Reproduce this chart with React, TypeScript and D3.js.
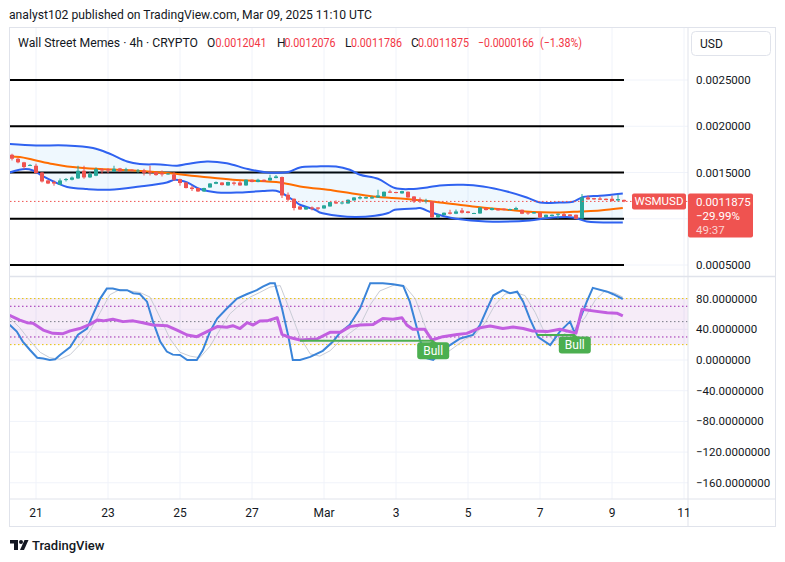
import React from 'react';
import * as d3 from 'd3';

// ---------- DATA ----------
// price unit: 1e-7 USD
const UNIT = 1e-7;
const openU = [16918,16486,16100,15760,15730,15000,14140,13970,13680,14180,14216,14360,15190,14470,14650,15370,15370,15110,15440,15250,15300,15110,15220,15080,15050,14940,14790,14790,14290,13920,13380,13320,12950,13380,13780,13920,13600,13920,13920,13600,14216,13970,14216,14140,14400,14510,12594,12162,11330,11000,11220,11220,11110,11330,11800,11650,11650,11980,12190,12190,12190,12300,12410,12950,12890,12740,12919,12410,12090,11870,11870,10140,10400,10680,10540,10900,10790,10580,10570,11160,10940,11110,11081,10940,10973,10973,10680,10570,10680,10180,10290,10432,10500,10465,10432,10030,12300,12230,12190,12162,12162,11980,12041];
const highU = [17027,16600,16150,15900,15950,15050,14200,14140,14360,14400,14570,15730,15730,15050,15550,15480,15460,15730,15500,15510,15350,15370,15400,15730,15100,15220,14950,15050,14330,13950,13570,13350,13350,13850,14030,13950,14000,14030,14140,14250,14250,14324,14250,14757,14720,14560,12840,12200,11360,11300,11330,11250,11480,11830,11980,11910,12100,12350,12486,12400,12486,13135,12950,13135,12920,13030,12950,12450,12300,12160,11900,10500,10680,10973,11000,11160,10830,10650,11250,11200,11200,11150,11110,11080,11297,11000,10700,10750,10700,10460,10470,10570,10680,10500,10460,12670,12520,12260,12378,12200,12486,12627,12076];
const lowU = [16300,16000,15370,15700,14900,13920,13750,13570,13650,14030,14150,14300,14324,14400,14600,14860,14940,15050,15050,15080,15130,14970,14680,14680,14650,14570,14750,14080,13570,13280,13000,12900,12900,13350,13740,13600,13560,13600,13560,13560,13940,13940,14000,14100,14370,12240,11870,10900,10960,10960,10900,10900,11080,11300,11590,11550,11620,11950,12090,12150,12150,12250,12380,12780,12750,12700,12270,11700,11700,11650,10100,10100,10380,10465,10500,10570,10590,10550,10540,10900,10900,10870,10900,10910,10940,10500,10432,10540,10100,10150,10260,10030,10260,10260,9980,10000,12050,12050,12020,11990,11880,11838,11786];
const closeU = [16486,16100,15590,15820,14940,14030,13810,13810,14140,14290,14460,15190,14470,14830,15370,15220,15220,15400,15110,15330,15190,15220,14970,15000,14720,14790,14900,14216,13860,13320,13210,12950,13320,13810,13970,13640,13970,13780,13600,14216,13970,14216,14030,14432,14570,12520,12054,11160,11000,11270,11081,11081,11440,11800,11650,11760,12054,12300,12340,12340,12340,12520,12919,12811,12780,12990,12300,11870,11910,11980,10140,10465,10650,10540,10790,10650,10620,10620,11220,10940,11160,10900,10940,11050,11160,10541,10570,10720,10140,10432,10432,10541,10290,10290,10000,12300,12090,12090,12054,12020,11910,12130,11875];

// Bollinger bands: [bar index, price]
const bbUpper: [number, number][] = [[-0.4,0.0018075],[4,0.0017924],[9,0.0017924],[13.5,0.0017643],[16.3,0.0017027],[19.2,0.0016194],[21.3,0.0015913],[24.7,0.001587],[27.5,0.001573],[29.2,0.0015913],[32.5,0.00162],[35.8,0.0016],[39.3,0.0015373],[42.5,0.0015],[44,0.001497],[46.2,0.001508],[48,0.0015545],[50.8,0.0015654],[54,0.0015654],[56.3,0.0015297],[58,0.0014757],[61,0.0014324],[63.8,0.0013319],[66.5,0.0013211],[69.2,0.0013384],[71.3,0.00136],[75.2,0.0013675],[78.5,0.0013492],[82.5,0.0012951],[85.8,0.0012303],[88,0.0011762],[91.3,0.0011762],[93.5,0.0011838],[95.2,0.0012346],[98,0.0012486],[101.8,0.0012735]];
const bbBasis: [number, number][] = [[-0.4,0.0016735],[1.3,0.001667],[3.5,0.0016378],[6.8,0.0015913],[9.2,0.0015654],[14.7,0.0015373],[20.2,0.0015221],[25.8,0.001494],[31.3,0.0014573],[36.8,0.0014216],[42.5,0.0014032],[44.7,0.0013924],[48,0.0013492],[53.5,0.0013059],[56.3,0.0012778],[60.2,0.0012411],[65.8,0.001213],[71.3,0.0011762],[76.8,0.001133],[82.5,0.0010973],[86.8,0.0010724],[91.3,0.0010681],[94.7,0.0010789],[98,0.0010897],[101.8,0.0011157]];
const bbLower: [number, number][] = [[-0.4,0.0015005],[2.2,0.0015373],[3.5,0.0015221],[5.2,0.0014573],[7.5,0.0013859],[9.2,0.0013427],[12.5,0.0013211],[16.3,0.0013135],[21.3,0.0013492],[25.8,0.0013924],[27.2,0.0014216],[29.2,0.0013924],[31.3,0.0013211],[34.2,0.0012843],[38,0.0012843],[41.8,0.0012995],[44,0.0013027],[45,0.0012778],[46,0.0012378],[47.2,0.001187],[48,0.0011513],[50.5,0.0010973],[51.3,0.0010681],[54.3,0.0010324],[57.2,0.0010184],[60.5,0.0010324],[62.7,0.0010616],[63.8,0.0010973],[67.2,0.0011113],[68,0.0011157],[70,0.0010649],[72,0.001027],[74,0.001],[79,0.0009708],[86.3,0.0009816],[89.2,0.0010076],[93.5,0.0010141],[95.8,0.0009708],[101.8,0.00096]];

// Lower pane: [bar index, value]
const stochK: [number, number][] = [[-0.4,46],[0.8,37],[1.8,24],[3,13],[4.2,3],[5.2,2],[6.3,0],[7.2,1],[8,6.5],[9.7,17],[11,33],[12.5,41],[13.5,59],[14.7,80],[15.8,93],[16.8,93],[18,91],[19.2,91],[20.2,87],[21.3,86],[22.5,76],[23.5,50],[24.7,24],[25.8,11],[26.8,7],[28,6.5],[29.2,0],[30.8,0],[31.8,13],[33,37],[34.2,54],[35.8,67],[37.5,80],[39.2,86],[40.8,91],[41.8,95.6],[43,100],[43.8,100],[45,67],[46,33],[46.8,0],[48,0],[49.7,4],[51.8,12],[53.5,24],[54.7,36],[56.3,46],[58,67],[59.7,100],[61.8,100],[63.5,98.7],[65.2,96.5],[66.3,76],[67.5,41],[68,26],[69.2,2],[70.2,0],[71.3,8],[73,19.5],[74.7,28],[76.8,32.6],[78,45.6],[79.2,67],[80.2,84],[81.8,91],[83,87],[84.2,89],[85.2,76],[86.3,54],[87.7,30],[89.7,19.5],[91.3,37],[93,50],[93.8,35],[94.7,54],[95.8,76],[96.8,94],[99.2,89],[100.2,85.7],[101.8,79.5]];
const stochD: [number, number][] = [[-0.4,55],[1.3,42],[3,25],[4.7,10],[6.3,3],[8,1],[9.7,7],[11.3,20],[13,38],[14.7,62],[16.3,85],[18,92],[19.7,90],[21.3,88],[23,82],[24.7,55],[26.3,28],[28,10],[29.7,5],[31.3,3],[33,18],[34.7,40],[36.3,60],[38,72],[39.7,82],[41.3,88],[43,95],[44.7,97],[46.3,65],[48,30],[49.7,8],[51.3,5],[53,12],[54.7,25],[56.3,35],[58,45],[59.7,72],[61.3,90],[63.8,98],[65.5,96],[67.2,80],[68.8,45],[70.5,15],[72.2,8],[73.8,17],[75.5,27],[77.2,33],[78.8,48],[80.5,72],[82.2,86],[83.8,88],[85.5,84],[87.2,62],[88.8,35],[90.5,25],[92.2,35],[93.8,42],[95.5,55],[97.2,78],[98.8,90],[100.5,87],[101.8,82]];
const rsi: [number, number][] = [[-0.4,58],[1.3,52],[2.5,48.6],[3.5,47.8],[5.2,39],[6.8,34.7],[8.5,34.3],[9.7,38],[11.3,41],[13,46.4],[14.2,52],[15.2,51],[16.8,53],[18.5,50],[20.2,51],[21.8,48.6],[23.5,45.6],[25.8,44.7],[27.5,39],[29.2,32.6],[30.8,30.4],[32.5,37],[34.2,43.5],[35.8,42.6],[36.8,44.7],[38,41],[39.2,48.6],[40.2,45.6],[41.3,50.8],[42.5,51],[44.2,55],[45,33.3],[46.3,29.3],[48,26],[50.8,27.4],[53,36],[54.7,36],[56.3,43.5],[58,45.6],[60.2,46.4],[61.8,54],[63.5,53],[65,55],[65.8,45.6],[66.8,40],[68.8,40],[70,26],[71.8,30.4],[74.2,33.3],[75.8,34.7],[78,42],[79.7,44.3],[81.8,41],[83.5,43],[85.2,41],[86.8,37.8],[89.2,37],[91.3,40],[94,35],[95,66],[96.8,64],[99.2,61.6],[100.8,61],[101.8,57.4]];

const bullLines = [{ from: 48, to: 70.2, value: 25 }, { from: 87.5, to: 93.8, value: 32.6 }];
const bullLabels = [{ at: 70.2, value: 25, text: 'Bull' }, { at: 93.8, value: 32.6, text: 'Bull' }];

const dayLabels = ['21', '23', '25', '27', 'Mar', '3', '5', '7', '9', '11'];
const dayBars = [4, 16, 28, 40, 52, 64, 76, 88, 100, 112];
const levelLines = [0.0025, 0.002, 0.0015, 0.001, 0.0005];
const priceTicks = [0.0025, 0.002, 0.0015, 0.001, 0.0005];
// the 0.0010 tick label is hidden behind the last-price label in the reference
const priceTickLabels = ['0.0025000', '0.0020000', '0.0015000', '', '0.0005000'];
const indTicks = [80, 40, 0, -40, -80, -120, -160];
const indTickLabels = ['80.0000000', '40.0000000', '0.0000000', '−40.0000000', '−80.0000000', '−120.0000000', '−160.0000000'];

const lastPrice = 0.0011875;
const headerTitle = 'analyst102 published on TradingView.com, Mar 09, 2025 11:10 UTC';
const symbolText = 'Wall Street Memes · 4h · CRYPTO';
const ohlcLabels = ['O', 'H', 'L', 'C'];
const ohlcValues = ['0.0012041', '0.0012076', '0.0011786', '0.0011875'];
const changeText = '−0.0000166';
const changePct = '(−1.38%)';
const lastPriceLines = ['0.0011875', '−29.99%', '49:37'];

const FONT = 'Roboto, "Noto Sans", sans-serif';
const UP = '#26a69a';
const DOWN = '#ef5350';
const GRID = '#f0f3fa';
const BORDER = '#e0e3eb';
const TXT = '#131722';

export default function App() {
  const x = d3.scaleLinear().domain([-1 / 3, 338 / 3]).range([10, 688]);
  const yP = d3.scaleLinear().domain([0.0005, 0.0025]).range([265, 80]);
  const yI = d3.scaleLinear().domain([-160, 80]).range([482.8, 298.6]);

  const bandLine = d3.line<[number, number]>().x(d => x(d[0])).y(d => yP(d[1])).curve(d3.curveCatmullRom.alpha(0.5));
  const indLine = d3.line<[number, number]>().x(d => x(d[0])).y(d => yI(d[1]));

  const upperPath = bandLine(bbUpper) || '';
  const lowerRev = (bandLine([...bbLower].reverse()) || '').replace(/^M/, 'L');
  const fillPath = upperPath + lowerRev + 'Z';

  const candles = closeU.map((c, i) => ({ i, o: openU[i] * UNIT, h: highU[i] * UNIT, l: lowU[i] * UNIT, c: c * UNIT }));

  const headerX = [207, 277, 345, 411];
  const valueX = [215.5, 284.5, 351, 418];
  const lpY = yP(lastPrice);

  return (
    <svg width={785} height={562} style={{ position: 'absolute', left: 0, top: 0, background: '#fff' }} fontFamily={FONT}>
      <defs>
        <clipPath id="pricePane"><rect x={10} y={28} width={678} height={248} /></clipPath>
        <clipPath id="indPane"><rect x={10} y={277} width={678} height={222} /></clipPath>
      </defs>
      <rect x={0} y={0} width={785} height={562} fill="#fff" />

      {/* header */}
      <text x={9} y={19} fontSize={12} fill={TXT} textLength={363} lengthAdjust="spacingAndGlyphs">{headerTitle}</text>

      {/* frame */}
      <rect x={9.5} y={27.5} width={766} height={499} fill="none" stroke={BORDER} />

      {/* grid */}
      {dayBars.map((b, k) => (
        <line key={'vg' + k} x1={x(b)} x2={x(b)} y1={28} y2={499} stroke={GRID} />
      ))}
      {priceTicks.map((p, k) => (
        <line key={'hg' + k} x1={10} x2={688} y1={yP(p)} y2={yP(p)} stroke={GRID} />
      ))}
      {indTicks.map((v, k) => (
        <line key={'ig' + k} x1={10} x2={688} y1={yI(v)} y2={yI(v)} stroke={GRID} />
      ))}

      {/* price pane */}
      <g clipPath="url(#pricePane)">
        {levelLines.map((p, k) => (
          <line key={'lv' + k} x1={10} x2={x(102)} y1={yP(p)} y2={yP(p)} stroke="#000" strokeWidth={2} />
        ))}
        <path d={fillPath} fill="rgba(33,150,243,0.07)" />
        <path d={upperPath} fill="none" stroke="#2f62f0" strokeWidth={2} />
        <path d={bandLine(bbLower) || ''} fill="none" stroke="#2f62f0" strokeWidth={2} />
        <path d={bandLine(bbBasis) || ''} fill="none" stroke="#ff6d00" strokeWidth={2} />
        {candles.map(d => {
          const col = d.c >= d.o ? UP : DOWN;
          const top = yP(Math.max(d.o, d.c));
          const bot = yP(Math.min(d.o, d.c));
          return (
            <g key={'c' + d.i}>
              <line x1={x(d.i)} x2={x(d.i)} y1={yP(d.h)} y2={yP(d.l)} stroke={col} strokeWidth={1} />
              <rect x={x(d.i) - 2} y={top} width={4} height={Math.max(1, bot - top)} fill={col} />
            </g>
          );
        })}
        <line x1={10} x2={688} y1={lpY} y2={lpY} stroke={DOWN} strokeWidth={1} strokeDasharray="1.5 2.5" />
      </g>

      {/* pane separator */}
      <line x1={10} x2={775} y1={276.5} y2={276.5} stroke={BORDER} strokeWidth={1.5} />

      {/* indicator pane */}
      <g clipPath="url(#indPane)">
        <rect x={10} y={yI(80)} width={678} height={yI(20) - yI(80)} fill="rgba(156,39,176,0.085)" />
        <line x1={10} x2={688} y1={yI(80)} y2={yI(80)} stroke="#e6c200" strokeDasharray="1.5 2.5" />
        <line x1={10} x2={688} y1={yI(20)} y2={yI(20)} stroke="#e6c200" strokeDasharray="1.5 2.5" />
        <line x1={10} x2={688} y1={yI(70)} y2={yI(70)} stroke="#9c27b0" strokeDasharray="1.5 2.5" />
        <line x1={10} x2={688} y1={yI(30)} y2={yI(30)} stroke="#9c27b0" strokeDasharray="1.5 2.5" />
        <line x1={10} x2={688} y1={yI(50)} y2={yI(50)} stroke="#787b86" strokeDasharray="1.5 2.5" />
        <path d={indLine(stochD) || ''} fill="none" stroke="#c9ccd6" strokeWidth={1} />
        <path d={indLine(stochK) || ''} fill="none" stroke="#3a84d9" strokeWidth={2} />
        <path d={indLine(rsi) || ''} fill="none" stroke="#c25fe0" strokeWidth={3} strokeLinejoin="round" />
        {bullLines.map((b, k) => (
          <line key={'bl' + k} x1={x(b.from)} x2={x(b.to)} y1={yI(b.value)} y2={yI(b.value)} stroke="#4caf50" strokeWidth={2} />
        ))}
        {bullLabels.map((b, k) => {
          const cx = x(b.at);
          const ty = yI(b.value) + 1.5;
          return (
            <g key={'lb' + k}>
              <path d={`M${cx - 4},${ty + 1} L${cx},${ty - 2} L${cx + 4},${ty + 1} Z`} fill="#4caf50" />
              <rect x={cx - 16} y={ty} width={32} height={17} rx={3} fill="#4caf50" />
              <text x={cx} y={ty + 12.5} fontSize={12} fill="#fff" textAnchor="middle">{b.text}</text>
            </g>
          );
        })}
      </g>

      {/* axis borders */}
      <line x1={688} x2={688} y1={28} y2={526} stroke={BORDER} />
      <line x1={10} x2={775} y1={499} y2={499} stroke={BORDER} />

      {/* price axis labels */}
      {priceTicks.map((p, k) => (priceTickLabels[k] ? (
        <text key={'pt' + k} x={696} y={yP(p) + 4} fontSize={11.5} fill={TXT}>{priceTickLabels[k]}</text>
      ) : null))}
      {indTicks.map((v, k) => (
        <text key={'it' + k} x={696} y={yI(v) + 4} fontSize={11.5} fill={TXT}>{indTickLabels[k]}</text>
      ))}

      {/* USD button */}
      <rect x={691.5} y={31.5} width={79} height={24} rx={4} fill="#fff" stroke={BORDER} />
      <text x={700} y={48} fontSize={12} fill={TXT}>USD</text>

      {/* last price labels */}
      <rect x={632} y={lpY - 8} width={54} height={16} rx={2} fill={DOWN} />
      <text x={659} y={lpY + 4} fontSize={11.5} fill="#fff" textAnchor="middle">WSMUSD</text>
      <rect x={688} y={lpY - 8} width={65} height={44} rx={2} fill={DOWN} />
      <text x={696} y={lpY + 5} fontSize={11.5} fill="#fff">{lastPriceLines[0]}</text>
      <text x={696} y={lpY + 19} fontSize={11.5} fill="#fff">{lastPriceLines[1]}</text>
      <text x={696} y={lpY + 33} fontSize={11.5} fill="rgba(255,255,255,0.75)">{lastPriceLines[2]}</text>

      {/* symbol header */}
      <text x={18} y={46.5} fontSize={12} fill={TXT} textLength={180} lengthAdjust="spacingAndGlyphs">{symbolText}</text>
      {ohlcLabels.map((l, k) => (
        <g key={'oh' + k}>
          <text x={headerX[k]} y={46.5} fontSize={12} fill={TXT}>{l}</text>
          <text x={valueX[k]} y={46.5} fontSize={12} fill="#f23645" textLength={51} lengthAdjust="spacingAndGlyphs">{ohlcValues[k]}</text>
        </g>
      ))}
      <text x={478} y={46.5} fontSize={12} fill="#f23645" textLength={56} lengthAdjust="spacingAndGlyphs">{changeText}</text>
      <text x={540} y={46.5} fontSize={12} fill="#f23645" textLength={42} lengthAdjust="spacingAndGlyphs">{changePct}</text>

      {/* x axis labels */}
      {dayBars.map((b, k) => (
        <text key={'xl' + k} x={x(b)} y={516.5} fontSize={12} fill={TXT} textAnchor="middle">{dayLabels[k]}</text>
      ))}

      {/* TradingView logo */}
      <g fill={TXT}>
        <path d="M10,540 h8 v10 h-4 v-6.5 h-4 z" />
        <circle cx={21} cy={542} r={2} />
        <path d="M24.5,540 h4 l-4.5,10 h-4 z" />
      </g>
      <text x={32} y={549.5} fontSize={13} fill={TXT} fontWeight={500}>TradingView</text>
    </svg>
  );
}
